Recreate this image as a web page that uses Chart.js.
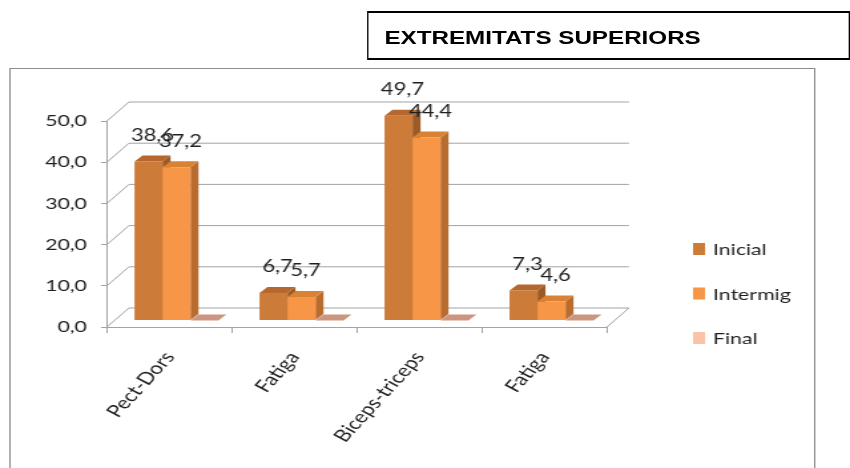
<!DOCTYPE html>
<html>
<head>
<meta charset="utf-8">
<script src="https://cdn.jsdelivr.net/npm/chart.js@4"></script>
<style>
  html, body { margin: 0; padding: 0; background: #fff; overflow: hidden; }
  /* the reference is stretched sideways, so the page is drawn narrow and widened */
  #page { position: relative; width: 639px; height: 468px; transform: scaleX(1.3302); transform-origin: 0 0; }
  #title {
    position: absolute; left: 276px; top: 11px; width: 363px; height: 49px;
    box-sizing: border-box; border: 2px solid #000; border-left-width: 1.5px; border-right-width: 1.5px;
    padding: 15px 0 0 12px; line-height: 21px;
    font: bold 18.2px "Liberation Sans", Arial, sans-serif; color: #000;
  }
  #frame {
    position: absolute; left: 7px; top: 68px; width: 606px; height: 420px;
    box-sizing: border-box; border: 1.2px solid #8c8c8c; border-top-width: 1.5px;
  }
  #chart { position: absolute; left: 0; top: 0; }
</style>
</head>
<body>
<div id="page">
  <div id="title">EXTREMITATS SUPERIORS</div>
  <div id="frame"></div>
  <canvas id="chart" width="639" height="468"></canvas>
</div>
<script>
const categories = ['Pect-Dors', 'Fatiga', 'Biceps-triceps', 'Fatiga'];
const seriesNames = ['Inicial', 'Intermig', 'Final'];
const inicialValues = [38.6, 6.7, 49.7, 7.3];
const intermigValues = [37.2, 5.7, 44.4, 4.6];
const finalValues = [0, 0, 0, 0];
const yMax = 50;
const yStep = 10;

// front / side / top shade of each series
const palette = [
    { front: '#CC7B39', side: '#9C5A26', top: '#B5672D' },
    { front: '#F79646', side: '#B96C2F', top: '#D98234' },
    { front: '#FAC3A6', side: '#C9917C', top: '#CB957F' }
];

const wall = { dx: 16.5, dy: -19 };      // depth of back wall
const barShift = { dx: 5.3, dy: -6.5 };  // front faces sit inside the floor
const barDepth = { dx: 6, dy: -6 };
const gridColor = '#a3a3a3';
const textColor = '#1f1f1f';

Chart.defaults.font.family = 'Lato';

function fmt(v) {
    return Number(v).toFixed(1).replace('.', ',');
}

function poly(ctx, pts, color) {
    ctx.beginPath();
    ctx.moveTo(pts[0][0], pts[0][1]);
    for (let k = 1; k < pts.length; k++) ctx.lineTo(pts[k][0], pts[k][1]);
    ctx.closePath();
    ctx.fillStyle = color;
    ctx.fill();
}

function drawWalls(chart) {
    const ctx = chart.ctx, area = chart.chartArea, y = chart.scales.y;
    ctx.save();
    ctx.strokeStyle = gridColor;
    ctx.lineWidth = 1;
    y.ticks.forEach(t => {
        const py = y.getPixelForValue(t.value);
        ctx.beginPath();
        ctx.moveTo(area.left, py);
        ctx.lineTo(area.left + wall.dx, py + wall.dy);
        ctx.lineTo(area.right + wall.dx, py + wall.dy);
        ctx.stroke();
    });
    // right edge of the floor
    ctx.beginPath();
    ctx.moveTo(area.right, area.bottom);
    ctx.lineTo(area.right + wall.dx, area.bottom + wall.dy);
    ctx.stroke();
    ctx.restore();
}

function drawBars(chart) {
    const ctx = chart.ctx;
    const metas = chart.data.datasets.map((d, i) => chart.getDatasetMeta(i));
    categories.forEach((c, j) => {
        metas.forEach((meta, i) => {
            const p = meta.data[j].getProps(['x', 'y', 'base', 'width'], true);
            const l = p.x - p.width / 2 + barShift.dx;
            const r = p.x + p.width / 2 + barShift.dx;
            const t = p.y + barShift.dy;
            const b = p.base + barShift.dy;
            const col = palette[i];
            poly(ctx, [[r, t], [r + barDepth.dx, t + barDepth.dy], [r + barDepth.dx, b + barDepth.dy], [r, b]], col.side);
            poly(ctx, [[l, t], [l + barDepth.dx, t + barDepth.dy], [r + barDepth.dx, t + barDepth.dy], [r, t]], col.top);
            ctx.fillStyle = col.front;
            ctx.fillRect(l, t, r - l, b - t);
        });
    });
}

function drawLabels(chart) {
    const ctx = chart.ctx;
    ctx.save();
    ctx.font = '16.5px Lato';
    ctx.fillStyle = textColor;
    ctx.textAlign = 'center';
    ctx.textBaseline = 'middle';
    chart.data.datasets.forEach((ds, i) => {
        const meta = chart.getDatasetMeta(i);
        ds.data.forEach((v, j) => {
            if (!v) return;
            const p = meta.data[j].getProps(['x', 'y'], true);
            const x = p.x + barShift.dx + barDepth.dx / 2;
            const y = p.y + barShift.dy + barDepth.dy - 20;
            ctx.fillText(fmt(v), x, y);
        });
    });
    ctx.restore();
}

function drawLegend(chart) {
    const ctx = chart.ctx;
    ctx.save();
    ctx.font = '16px Lato';
    ctx.textAlign = 'left';
    ctx.textBaseline = 'middle';
    chart.data.datasets.forEach((ds, i) => {
        const cy = 249 + i * 44.5;
        ctx.fillStyle = ds.backgroundColor;
        ctx.fillRect(521, cy - 6, 9, 12);
        ctx.fillStyle = textColor;
        ctx.fillText(ds.label, 536, cy + 1);
    });
    ctx.restore();
}

const threeD = {
    id: 'threeD',
    beforeDatasetsDraw(chart) {
        drawWalls(chart);
        drawBars(chart);
        drawLabels(chart);
        return false;
    },
    afterDraw(chart) {
        drawLegend(chart);
    }
};

const seriesValues = [inicialValues, intermigValues, finalValues];

new Chart(document.getElementById('chart'), {
    type: 'bar',
    data: {
        labels: categories,
        datasets: seriesNames.map((name, i) => ({
            label: name,
            data: seriesValues[i],
            backgroundColor: palette[i].front,
            categoryPercentage: 0.672,
            barPercentage: 1
        }))
    },
    options: {
        responsive: false,
        animation: false,
        layout: { padding: { left: 0, top: 121, right: 182.7, bottom: 0 } },
        plugins: {
            legend: { display: false },
            tooltip: { enabled: false }
        },
        scales: {
            x: {
                grid: { drawOnChartArea: false, offset: true, tickLength: 6, color: gridColor },
                border: { color: gridColor },
                ticks: { minRotation: 55, maxRotation: 55, font: { size: 17 }, color: textColor, padding: 15 },
                afterFit(s) { s.height = 141; }
            },
            y: {
                min: 0,
                max: yMax,
                ticks: { stepSize: yStep, callback: fmt, font: { size: 16 }, color: textColor, padding: 10.5 },
                grid: { drawOnChartArea: false, tickLength: 4.5, color: gridColor },
                border: { color: gridColor },
                afterFit(s) { s.width = 80.4; }
            }
        }
    },
    plugins: [threeD]
});
</script>
</body>
</html>
